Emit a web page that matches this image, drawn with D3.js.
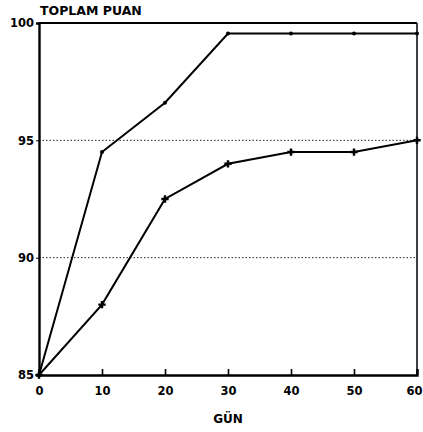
<!DOCTYPE html>
<html><head><meta charset="utf-8">
<script src="https://cdn.jsdelivr.net/npm/d3@7"></script>
<style>body{margin:0;background:#fff}text{font-family:"DejaVu Sans",sans-serif;font-weight:bold;fill:#000}</style>
</head><body>
<svg id="c" width="423" height="432"></svg>
<script>
const days = [0, 10, 20, 30, 40, 50, 60];
const upperSeries = [85, 94.5, 96.6, 99.55, 99.55, 99.55, 99.55];
const lowerSeries = [85, 88, 92.5, 94, 94.5, 94.5, 95];
const xTicks = [0, 10, 20, 30, 40, 50, 60];
const yTicks = [85, 90, 95, 100];
const gridValues = [90, 95];

const svg = d3.select("#c");
const L = 39, R = 417, T = 23, B = 375;
const x = d3.scaleLinear().domain([0, 60]).range([L, R]);
const y = d3.scaleLinear().domain([85, 100]).range([B, T]);

// gridlines
svg.selectAll(".grid").data(gridValues).join("line")
  .attr("x1", L).attr("x2", R).attr("y1", d => y(d)).attr("y2", d => y(d))
  .attr("stroke", "#222").attr("stroke-width", 1).attr("stroke-dasharray", "1.5,2");

// frame
svg.append("line").attr("x1", L).attr("x2", R).attr("y1", T).attr("y2", T).attr("stroke", "#000").attr("stroke-width", 2);
svg.append("line").attr("x1", R).attr("x2", R).attr("y1", T).attr("y2", B).attr("stroke", "#000").attr("stroke-width", 1.5);

// axes
const xAxis = d3.axisBottom(x).tickValues(xTicks).tickSize(-6).tickPadding(12).tickFormat(d3.format("d"));
const gx = svg.append("g").attr("transform", `translate(0,${B})`).call(xAxis);
gx.select(".domain").attr("stroke-width", 2.4);
gx.selectAll(".tick line").attr("stroke-width", 1.6);
gx.selectAll("text").attr("font-size", 11.5).attr("font-family", "DejaVu Sans").style("font-weight", "bold");
gx.selectAll(".tick").filter(d => d === 60).select("text").attr("text-anchor", "end").attr("dx", 5);

const yAxis = d3.axisLeft(y).tickValues(yTicks).tickSize(3).tickPadding(2);
const gy = svg.append("g").attr("transform", `translate(${L},0)`).call(yAxis);
gy.select(".domain").attr("stroke-width", 2.4);
gy.selectAll("text").attr("font-size", 11.5).attr("font-family", "DejaVu Sans").style("font-weight", "bold");
svg.selectAll(".domain").attr("stroke", "#000");

// lines
const line = d3.line().x((d, i) => x(days[i])).y(d => y(d));
svg.append("path").datum(upperSeries).attr("d", line).attr("fill", "none").attr("stroke", "#000").attr("stroke-width", 2);
svg.append("path").datum(lowerSeries).attr("d", line).attr("fill", "none").attr("stroke", "#000").attr("stroke-width", 2);

// markers
svg.selectAll(".um").data(upperSeries).join("circle")
  .attr("cx", (d, i) => x(days[i])).attr("cy", d => y(d)).attr("r", 2).attr("fill", "#000");
const plus = d3.symbol().type(d3.symbolCross).size(30);
svg.selectAll(".lm").data(lowerSeries).join("path")
  .attr("transform", (d, i) => `translate(${x(days[i])},${y(d)})`)
  .attr("d", plus).attr("fill", "#000");

// titles
svg.append("text").attr("x", 40).attr("y", 15).attr("font-size", 12.5).text("TOPLAM PUAN");
svg.append("text").attr("x", 228).attr("y", 423).attr("text-anchor", "middle").attr("font-size", 12).text("GÜN");
</script>
</body></html>
